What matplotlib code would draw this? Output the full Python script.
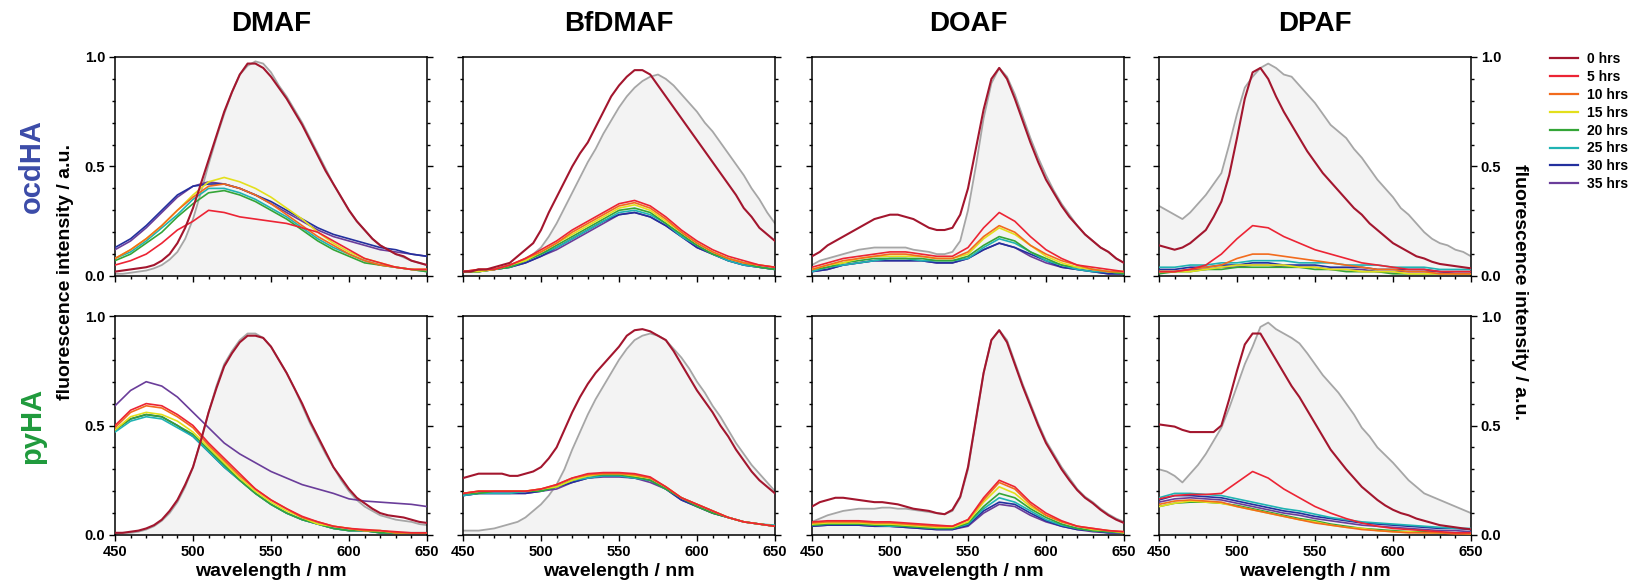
import matplotlib
matplotlib.use("Agg")
import matplotlib.pyplot as plt
from matplotlib.ticker import MultipleLocator
from matplotlib.lines import Line2D

plt.rcParams['font.family'] = ['Liberation Sans', 'DejaVu Sans']
plt.rcParams['font.weight'] = 'bold'

# --- Data ---

# wavelength grids: 5 nm for 0 hrs + reference, 10 nm for the later spectra
wl_fine = list(range(450, 651, 5))
wl = list(range(450, 651, 10))

hours = ["0 hrs", "5 hrs", "10 hrs", "15 hrs", "20 hrs", "25 hrs", "30 hrs", "35 hrs"]
hour_colors = ["#a3162e", "#ec2434", "#f26b1d", "#e3df1c", "#34a537", "#1fb3b3", "#23309e", "#6a3d9a"]

dyes = ["DMAF", "BfDMAF", "DOAF", "DPAF"]
rows = ["ocdHA", "pyHA"]
row_colors = ["#3b4ba8", "#1f9a3c"]

# ocdHA / DMAF
ocd_dmaf_ref = [0.01, 0.01, 0.015, 0.02, 0.025, 0.035, 0.05, 0.075, 0.11, 0.17,
                0.26, 0.38, 0.51, 0.63, 0.74, 0.84, 0.92, 0.96, 0.98, 0.97,
                0.93, 0.87, 0.82, 0.76, 0.70, 0.63, 0.56, 0.49, 0.42, 0.36,
                0.30, 0.25, 0.21, 0.17, 0.14, 0.12, 0.10, 0.085, 0.07, 0.06, 0.05]
ocd_dmaf_0h = [0.02, 0.025, 0.03, 0.035, 0.04, 0.05, 0.07, 0.10, 0.15, 0.22,
               0.31, 0.42, 0.53, 0.64, 0.75, 0.84, 0.92, 0.97, 0.97, 0.95,
               0.91, 0.86, 0.81, 0.75, 0.69, 0.62, 0.55, 0.48, 0.42, 0.36,
               0.30, 0.25, 0.21, 0.17, 0.14, 0.12, 0.10, 0.09, 0.07, 0.06, 0.05]
ocd_dmaf_later = [
    [0.05, 0.07, 0.10, 0.15, 0.21, 0.25, 0.30, 0.29, 0.27, 0.26, 0.25, 0.24, 0.22, 0.20, 0.16, 0.12, 0.08, 0.06, 0.04, 0.03, 0.03],
    [0.08, 0.12, 0.17, 0.23, 0.30, 0.36, 0.41, 0.42, 0.40, 0.37, 0.33, 0.28, 0.23, 0.18, 0.14, 0.10, 0.07, 0.05, 0.04, 0.03, 0.03],
    [0.08, 0.12, 0.17, 0.23, 0.30, 0.37, 0.43, 0.45, 0.43, 0.40, 0.36, 0.31, 0.26, 0.20, 0.15, 0.11, 0.08, 0.06, 0.04, 0.03, 0.03],
    [0.07, 0.10, 0.15, 0.20, 0.27, 0.33, 0.38, 0.39, 0.37, 0.34, 0.30, 0.26, 0.21, 0.16, 0.12, 0.09, 0.06, 0.05, 0.04, 0.03, 0.02],
    [0.08, 0.11, 0.16, 0.22, 0.28, 0.35, 0.40, 0.40, 0.38, 0.35, 0.31, 0.27, 0.22, 0.17, 0.13, 0.10, 0.07, 0.05, 0.04, 0.03, 0.02],
    [0.13, 0.17, 0.23, 0.30, 0.37, 0.41, 0.42, 0.42, 0.40, 0.37, 0.34, 0.30, 0.26, 0.22, 0.19, 0.17, 0.15, 0.13, 0.12, 0.10, 0.09],
    [0.12, 0.16, 0.22, 0.29, 0.36, 0.41, 0.43, 0.42, 0.40, 0.37, 0.33, 0.29, 0.25, 0.21, 0.18, 0.16, 0.14, 0.12, 0.11, 0.10, 0.09],
]

# ocdHA / BfDMAF
ocd_bfdmaf_ref = [0.02, 0.02, 0.02, 0.03, 0.03, 0.04, 0.05, 0.06, 0.08, 0.10,
                  0.13, 0.18, 0.24, 0.31, 0.38, 0.45, 0.52, 0.58, 0.65, 0.71,
                  0.77, 0.82, 0.86, 0.89, 0.91, 0.92, 0.90, 0.87, 0.83, 0.79,
                  0.75, 0.70, 0.66, 0.61, 0.56, 0.51, 0.46, 0.40, 0.35, 0.29, 0.24]
ocd_bfdmaf_0h = [0.02, 0.02, 0.03, 0.03, 0.04, 0.05, 0.06, 0.09, 0.12, 0.15,
                 0.21, 0.29, 0.36, 0.43, 0.50, 0.56, 0.61, 0.68, 0.75, 0.82,
                 0.87, 0.91, 0.94, 0.94, 0.92, 0.87, 0.82, 0.77, 0.72, 0.67,
                 0.62, 0.57, 0.52, 0.47, 0.42, 0.37, 0.31, 0.27, 0.22, 0.19, 0.16]
ocd_bfdmaf_later = [
    [0.02, 0.03, 0.03, 0.05, 0.08, 0.12, 0.16, 0.21, 0.25, 0.29, 0.33, 0.345, 0.32, 0.27, 0.21, 0.16, 0.12, 0.09, 0.07, 0.05, 0.04],
    [0.02, 0.03, 0.03, 0.05, 0.08, 0.11, 0.15, 0.20, 0.24, 0.28, 0.32, 0.335, 0.31, 0.26, 0.20, 0.15, 0.11, 0.08, 0.06, 0.05, 0.04],
    [0.02, 0.02, 0.03, 0.05, 0.07, 0.11, 0.15, 0.19, 0.23, 0.27, 0.31, 0.325, 0.30, 0.25, 0.20, 0.15, 0.11, 0.08, 0.06, 0.05, 0.04],
    [0.02, 0.02, 0.03, 0.04, 0.07, 0.10, 0.14, 0.18, 0.22, 0.26, 0.30, 0.31, 0.29, 0.24, 0.19, 0.14, 0.10, 0.08, 0.06, 0.04, 0.03],
    [0.02, 0.02, 0.03, 0.04, 0.07, 0.10, 0.13, 0.17, 0.21, 0.25, 0.29, 0.30, 0.28, 0.24, 0.18, 0.14, 0.10, 0.07, 0.05, 0.04, 0.03],
    [0.02, 0.02, 0.03, 0.04, 0.06, 0.09, 0.13, 0.17, 0.21, 0.25, 0.28, 0.29, 0.27, 0.23, 0.18, 0.13, 0.10, 0.07, 0.05, 0.04, 0.03],
    [0.02, 0.02, 0.03, 0.04, 0.06, 0.09, 0.12, 0.16, 0.20, 0.24, 0.28, 0.29, 0.27, 0.23, 0.18, 0.13, 0.10, 0.07, 0.05, 0.04, 0.03],
]

# ocdHA / DOAF
ocd_doaf_ref = [0.05, 0.07, 0.08, 0.09, 0.10, 0.11, 0.12, 0.125, 0.13, 0.13,
                0.13, 0.13, 0.13, 0.12, 0.115, 0.11, 0.10, 0.10, 0.11, 0.16,
                0.30, 0.50, 0.72, 0.88, 0.95, 0.91, 0.83, 0.73, 0.63, 0.54,
                0.46, 0.39, 0.33, 0.28, 0.23, 0.19, 0.16, 0.13, 0.11, 0.08, 0.06]
ocd_doaf_0h = [0.09, 0.11, 0.14, 0.16, 0.18, 0.20, 0.22, 0.24, 0.26, 0.27,
               0.28, 0.28, 0.27, 0.26, 0.24, 0.22, 0.21, 0.21, 0.22, 0.28,
               0.40, 0.58, 0.76, 0.90, 0.95, 0.90, 0.81, 0.71, 0.61, 0.52,
               0.44, 0.38, 0.32, 0.27, 0.23, 0.19, 0.16, 0.13, 0.11, 0.08, 0.06]
ocd_doaf_later = [
    [0.04, 0.06, 0.08, 0.09, 0.10, 0.11, 0.11, 0.10, 0.09, 0.09, 0.13, 0.22, 0.29, 0.25, 0.18, 0.12, 0.08, 0.05, 0.04, 0.03, 0.02],
    [0.03, 0.05, 0.07, 0.08, 0.09, 0.10, 0.10, 0.09, 0.08, 0.08, 0.11, 0.18, 0.23, 0.20, 0.14, 0.10, 0.07, 0.05, 0.03, 0.02, 0.02],
    [0.03, 0.05, 0.06, 0.08, 0.09, 0.09, 0.09, 0.09, 0.08, 0.08, 0.10, 0.17, 0.22, 0.19, 0.14, 0.09, 0.06, 0.04, 0.03, 0.02, 0.02],
    [0.03, 0.04, 0.06, 0.07, 0.08, 0.08, 0.08, 0.08, 0.07, 0.07, 0.09, 0.14, 0.18, 0.16, 0.11, 0.08, 0.05, 0.04, 0.03, 0.02, 0.01],
    [0.02, 0.04, 0.05, 0.06, 0.07, 0.08, 0.08, 0.07, 0.07, 0.07, 0.08, 0.13, 0.17, 0.15, 0.11, 0.07, 0.05, 0.03, 0.02, 0.02, 0.01],
    [0.02, 0.03, 0.05, 0.06, 0.07, 0.07, 0.07, 0.07, 0.06, 0.06, 0.08, 0.12, 0.15, 0.13, 0.10, 0.07, 0.04, 0.03, 0.02, 0.01, 0.01],
    [0.02, 0.03, 0.05, 0.06, 0.07, 0.07, 0.07, 0.07, 0.06, 0.06, 0.08, 0.12, 0.15, 0.13, 0.09, 0.06, 0.04, 0.03, 0.02, 0.01, 0.01],
]

# ocdHA / DPAF
ocd_dpaf_ref = [0.32, 0.30, 0.28, 0.26, 0.29, 0.33, 0.37, 0.42, 0.47, 0.60,
                0.74, 0.86, 0.91, 0.95, 0.97, 0.95, 0.92, 0.91, 0.87, 0.83,
                0.79, 0.74, 0.69, 0.66, 0.63, 0.58, 0.54, 0.49, 0.44, 0.40,
                0.36, 0.31, 0.28, 0.24, 0.20, 0.17, 0.15, 0.14, 0.12, 0.11, 0.09]
ocd_dpaf_0h = [0.14, 0.13, 0.12, 0.13, 0.15, 0.18, 0.21, 0.27, 0.34, 0.46,
               0.63, 0.81, 0.93, 0.95, 0.90, 0.82, 0.75, 0.69, 0.63, 0.57,
               0.52, 0.47, 0.43, 0.39, 0.35, 0.31, 0.28, 0.24, 0.21, 0.18,
               0.15, 0.13, 0.11, 0.09, 0.08, 0.065, 0.055, 0.05, 0.045, 0.04, 0.035]
ocd_dpaf_later = [
    [0.02, 0.02, 0.03, 0.05, 0.10, 0.17, 0.23, 0.22, 0.18, 0.15, 0.12, 0.10, 0.08, 0.06, 0.05, 0.04, 0.03, 0.03, 0.02, 0.02, 0.02],
    [0.02, 0.02, 0.03, 0.04, 0.05, 0.08, 0.10, 0.10, 0.09, 0.08, 0.07, 0.06, 0.05, 0.04, 0.03, 0.03, 0.02, 0.02, 0.01, 0.01, 0.01],
    [0.02, 0.02, 0.02, 0.03, 0.04, 0.05, 0.05, 0.05, 0.05, 0.04, 0.04, 0.03, 0.03, 0.02, 0.02, 0.02, 0.01, 0.01, 0.01, 0.01, 0.01],
    [0.01, 0.02, 0.02, 0.03, 0.03, 0.04, 0.04, 0.04, 0.04, 0.04, 0.03, 0.03, 0.02, 0.02, 0.02, 0.01, 0.01, 0.01, 0.01, 0.01, 0.01],
    [0.04, 0.04, 0.05, 0.05, 0.06, 0.06, 0.07, 0.07, 0.07, 0.06, 0.06, 0.06, 0.05, 0.05, 0.05, 0.04, 0.04, 0.04, 0.03, 0.03, 0.03],
    [0.03, 0.03, 0.04, 0.04, 0.05, 0.05, 0.06, 0.06, 0.05, 0.05, 0.05, 0.04, 0.04, 0.04, 0.03, 0.03, 0.03, 0.03, 0.02, 0.02, 0.02],
    [0.02, 0.02, 0.03, 0.03, 0.04, 0.04, 0.05, 0.05, 0.04, 0.04, 0.04, 0.03, 0.03, 0.03, 0.02, 0.02, 0.02, 0.02, 0.02, 0.01, 0.01],
]

# pyHA / DMAF
py_dmaf_ref = [0.005, 0.01, 0.01, 0.015, 0.025, 0.04, 0.065, 0.10, 0.15, 0.22,
               0.31, 0.43, 0.56, 0.68, 0.78, 0.84, 0.89, 0.92, 0.92, 0.90,
               0.86, 0.80, 0.74, 0.67, 0.59, 0.51, 0.44, 0.37, 0.31, 0.25,
               0.20, 0.16, 0.13, 0.11, 0.09, 0.08, 0.07, 0.065, 0.06, 0.05, 0.045]
py_dmaf_0h = [0.01, 0.01, 0.015, 0.02, 0.03, 0.045, 0.07, 0.11, 0.16, 0.23,
              0.31, 0.43, 0.56, 0.67, 0.77, 0.83, 0.88, 0.91, 0.91, 0.90,
              0.86, 0.80, 0.74, 0.67, 0.60, 0.52, 0.45, 0.38, 0.31, 0.26,
              0.21, 0.17, 0.145, 0.12, 0.10, 0.09, 0.085, 0.08, 0.07, 0.06, 0.055]
py_dmaf_later = [
    [0.50, 0.57, 0.60, 0.59, 0.55, 0.50, 0.42, 0.35, 0.28, 0.21, 0.16, 0.12, 0.085, 0.06, 0.04, 0.03, 0.025, 0.02, 0.015, 0.01, 0.01],
    [0.49, 0.56, 0.59, 0.58, 0.54, 0.49, 0.41, 0.34, 0.27, 0.21, 0.16, 0.12, 0.08, 0.06, 0.04, 0.03, 0.02, 0.02, 0.01, 0.01, 0.01],
    [0.48, 0.54, 0.56, 0.55, 0.52, 0.47, 0.40, 0.33, 0.26, 0.20, 0.15, 0.11, 0.08, 0.05, 0.04, 0.03, 0.02, 0.02, 0.01, 0.01, 0.01],
    [0.48, 0.53, 0.55, 0.54, 0.50, 0.46, 0.39, 0.32, 0.25, 0.19, 0.14, 0.10, 0.07, 0.05, 0.03, 0.02, 0.02, 0.01, 0.01, 0.01, 0.01],
    [0.47, 0.52, 0.54, 0.53, 0.49, 0.45, 0.38, 0.31, 0.25, 0.19, 0.14, 0.10, 0.07, 0.05, 0.03, 0.02, 0.02, 0.01, 0.01, 0.01, 0.01],
    [0.48, 0.53, 0.55, 0.54, 0.50, 0.45, 0.38, 0.31, 0.25, 0.19, 0.14, 0.10, 0.07, 0.05, 0.03, 0.02, 0.02, 0.01, 0.01, 0.01, 0.01],
    [0.59, 0.66, 0.70, 0.68, 0.63, 0.56, 0.49, 0.42, 0.37, 0.33, 0.29, 0.26, 0.23, 0.21, 0.19, 0.165, 0.155, 0.15, 0.145, 0.14, 0.13],
]

# pyHA / BfDMAF
py_bfdmaf_ref = [0.02, 0.02, 0.02, 0.025, 0.03, 0.04, 0.05, 0.06, 0.08, 0.11,
                 0.14, 0.18, 0.23, 0.30, 0.39, 0.47, 0.55, 0.62, 0.68, 0.74,
                 0.80, 0.85, 0.89, 0.91, 0.92, 0.91, 0.89, 0.85, 0.81, 0.76,
                 0.70, 0.65, 0.59, 0.54, 0.48, 0.42, 0.37, 0.32, 0.28, 0.24, 0.20]
py_bfdmaf_0h = [0.26, 0.27, 0.28, 0.28, 0.28, 0.28, 0.27, 0.27, 0.28, 0.29,
                0.31, 0.35, 0.40, 0.48, 0.56, 0.63, 0.69, 0.74, 0.78, 0.82,
                0.86, 0.91, 0.935, 0.94, 0.93, 0.91, 0.89, 0.84, 0.78, 0.72,
                0.66, 0.61, 0.56, 0.50, 0.45, 0.39, 0.34, 0.29, 0.25, 0.22, 0.19]
py_bfdmaf_later = [
    [0.19, 0.20, 0.20, 0.20, 0.20, 0.21, 0.23, 0.26, 0.28, 0.285, 0.285, 0.28, 0.265, 0.22, 0.17, 0.14, 0.11, 0.08, 0.06, 0.05, 0.04],
    [0.19, 0.20, 0.20, 0.20, 0.20, 0.21, 0.23, 0.26, 0.275, 0.28, 0.28, 0.275, 0.26, 0.22, 0.17, 0.14, 0.11, 0.08, 0.06, 0.05, 0.04],
    [0.19, 0.20, 0.20, 0.20, 0.20, 0.21, 0.22, 0.25, 0.27, 0.28, 0.28, 0.27, 0.26, 0.22, 0.17, 0.14, 0.11, 0.08, 0.06, 0.05, 0.04],
    [0.19, 0.19, 0.20, 0.20, 0.20, 0.20, 0.22, 0.25, 0.27, 0.275, 0.275, 0.265, 0.25, 0.21, 0.17, 0.13, 0.10, 0.08, 0.06, 0.05, 0.04],
    [0.18, 0.19, 0.19, 0.19, 0.20, 0.20, 0.22, 0.25, 0.26, 0.27, 0.27, 0.26, 0.25, 0.21, 0.17, 0.14, 0.11, 0.08, 0.06, 0.05, 0.045],
    [0.18, 0.19, 0.19, 0.19, 0.19, 0.20, 0.22, 0.24, 0.26, 0.27, 0.27, 0.26, 0.25, 0.21, 0.16, 0.13, 0.10, 0.08, 0.06, 0.05, 0.04],
    [0.18, 0.19, 0.19, 0.19, 0.19, 0.20, 0.21, 0.24, 0.26, 0.265, 0.265, 0.26, 0.24, 0.21, 0.16, 0.13, 0.10, 0.08, 0.06, 0.05, 0.04],
]

# pyHA / DOAF
py_doaf_ref = [0.06, 0.075, 0.09, 0.10, 0.11, 0.115, 0.12, 0.12, 0.12, 0.125,
               0.125, 0.12, 0.12, 0.115, 0.11, 0.105, 0.10, 0.095, 0.11, 0.17,
               0.30, 0.52, 0.74, 0.89, 0.935, 0.89, 0.79, 0.69, 0.60, 0.51,
               0.43, 0.37, 0.31, 0.26, 0.21, 0.175, 0.15, 0.12, 0.095, 0.075, 0.06]
py_doaf_0h = [0.13, 0.15, 0.16, 0.17, 0.17, 0.165, 0.16, 0.155, 0.15, 0.15,
              0.145, 0.14, 0.13, 0.12, 0.115, 0.11, 0.10, 0.095, 0.115, 0.175,
              0.31, 0.525, 0.74, 0.89, 0.935, 0.88, 0.78, 0.68, 0.59, 0.50,
              0.42, 0.36, 0.30, 0.25, 0.205, 0.17, 0.145, 0.115, 0.09, 0.07, 0.055]
py_doaf_later = [
    [0.06, 0.065, 0.065, 0.065, 0.06, 0.06, 0.055, 0.05, 0.045, 0.04, 0.07, 0.17, 0.25, 0.22, 0.15, 0.10, 0.065, 0.04, 0.03, 0.02, 0.015],
    [0.055, 0.06, 0.06, 0.06, 0.055, 0.055, 0.05, 0.045, 0.04, 0.04, 0.07, 0.16, 0.24, 0.21, 0.14, 0.09, 0.06, 0.04, 0.03, 0.02, 0.015],
    [0.05, 0.055, 0.055, 0.055, 0.05, 0.05, 0.045, 0.04, 0.035, 0.035, 0.06, 0.15, 0.22, 0.19, 0.13, 0.09, 0.06, 0.04, 0.025, 0.02, 0.01],
    [0.045, 0.05, 0.05, 0.05, 0.045, 0.045, 0.04, 0.035, 0.03, 0.03, 0.055, 0.13, 0.19, 0.17, 0.12, 0.08, 0.05, 0.03, 0.02, 0.015, 0.01],
    [0.045, 0.05, 0.05, 0.05, 0.045, 0.04, 0.04, 0.035, 0.03, 0.03, 0.05, 0.12, 0.17, 0.15, 0.11, 0.07, 0.045, 0.03, 0.02, 0.015, 0.01],
    [0.04, 0.045, 0.045, 0.045, 0.04, 0.04, 0.035, 0.03, 0.025, 0.025, 0.045, 0.11, 0.15, 0.14, 0.10, 0.065, 0.04, 0.025, 0.02, 0.01, 0.01],
    [0.04, 0.045, 0.045, 0.045, 0.04, 0.04, 0.035, 0.03, 0.025, 0.025, 0.04, 0.10, 0.14, 0.13, 0.09, 0.06, 0.04, 0.025, 0.015, 0.01, 0.01],
]

# pyHA / DPAF
py_dpaf_ref = [0.30, 0.29, 0.27, 0.24, 0.28, 0.32, 0.37, 0.43, 0.49, 0.58,
               0.68, 0.78, 0.86, 0.95, 0.97, 0.94, 0.92, 0.90, 0.875, 0.83,
               0.78, 0.73, 0.69, 0.65, 0.60, 0.55, 0.49, 0.45, 0.40, 0.365,
               0.33, 0.29, 0.25, 0.22, 0.19, 0.175, 0.16, 0.145, 0.13, 0.115, 0.10]
py_dpaf_0h = [0.505, 0.50, 0.495, 0.48, 0.47, 0.47, 0.47, 0.47, 0.50, 0.62,
              0.75, 0.87, 0.92, 0.92, 0.86, 0.80, 0.74, 0.68, 0.63, 0.57,
              0.51, 0.45, 0.39, 0.345, 0.30, 0.26, 0.22, 0.19, 0.16, 0.135,
              0.115, 0.10, 0.09, 0.075, 0.065, 0.055, 0.045, 0.04, 0.035, 0.03, 0.026]
py_dpaf_later = [
    [0.165, 0.18, 0.185, 0.185, 0.19, 0.24, 0.29, 0.26, 0.21, 0.17, 0.13, 0.10, 0.075, 0.055, 0.04, 0.03, 0.025, 0.02, 0.015, 0.01, 0.01],
    [0.14, 0.155, 0.16, 0.155, 0.15, 0.13, 0.115, 0.10, 0.085, 0.07, 0.055, 0.045, 0.035, 0.025, 0.02, 0.015, 0.01, 0.01, 0.01, 0.005, 0.005],
    [0.13, 0.145, 0.155, 0.15, 0.145, 0.13, 0.115, 0.10, 0.085, 0.07, 0.06, 0.045, 0.035, 0.03, 0.02, 0.015, 0.015, 0.01, 0.01, 0.01, 0.005],
    [0.13, 0.145, 0.15, 0.15, 0.145, 0.135, 0.12, 0.105, 0.09, 0.075, 0.065, 0.05, 0.04, 0.03, 0.025, 0.02, 0.015, 0.015, 0.01, 0.01, 0.01],
    [0.17, 0.19, 0.19, 0.185, 0.18, 0.165, 0.15, 0.135, 0.12, 0.11, 0.095, 0.08, 0.07, 0.06, 0.055, 0.05, 0.045, 0.04, 0.035, 0.03, 0.03],
    [0.16, 0.18, 0.18, 0.175, 0.17, 0.155, 0.14, 0.125, 0.11, 0.10, 0.085, 0.075, 0.065, 0.055, 0.05, 0.045, 0.04, 0.035, 0.03, 0.03, 0.025],
    [0.15, 0.165, 0.17, 0.165, 0.16, 0.145, 0.13, 0.115, 0.10, 0.09, 0.075, 0.065, 0.055, 0.045, 0.04, 0.035, 0.03, 0.025, 0.02, 0.02, 0.015],
]

panels = [
    [(ocd_dmaf_ref, ocd_dmaf_0h, ocd_dmaf_later),
     (ocd_bfdmaf_ref, ocd_bfdmaf_0h, ocd_bfdmaf_later),
     (ocd_doaf_ref, ocd_doaf_0h, ocd_doaf_later),
     (ocd_dpaf_ref, ocd_dpaf_0h, ocd_dpaf_later)],
    [(py_dmaf_ref, py_dmaf_0h, py_dmaf_later),
     (py_bfdmaf_ref, py_bfdmaf_0h, py_bfdmaf_later),
     (py_doaf_ref, py_doaf_0h, py_doaf_later),
     (py_dpaf_ref, py_dpaf_0h, py_dpaf_later)],
]

# --- Layout (pixel boxes of the reference) ---
W, H = 1633, 587
col_left = [115, 463, 812, 1159]
ax_w = 312
row_top = [57, 316]
ax_h = 219


def style_axes(ax, r, c):
    ax.set_xlim(450, 650)
    ax.set_ylim(0, 1.0)
    ax.set_xticks([450, 500, 550, 600, 650])
    ax.xaxis.set_minor_locator(MultipleLocator(10))
    ax.set_yticks([0.0, 0.5, 1.0])
    ax.set_yticklabels(["0.0", "0.5", "1.0"])
    ax.yaxis.set_minor_locator(MultipleLocator(0.1))
    ax.tick_params(which='both', direction='out', left=True, right=True,
                   top=False, bottom=True, width=1.0, labelsize=10.5, pad=2.5)
    ax.tick_params(which='major', length=4.5)
    ax.tick_params(which='minor', length=2.5)
    ax.tick_params(labelleft=(c == 0), labelright=(c == 3), labelbottom=(r == 1))
    for sp in ax.spines.values():
        sp.set_linewidth(1.1)
    if r == 1:
        ax.set_xlabel("wavelength / nm", fontsize=14, fontweight='bold', labelpad=3)


fig = plt.figure(figsize=(W / 100, H / 100), dpi=100)

for r in range(2):
    for c in range(4):
        ax = fig.add_axes([col_left[c] / W, 1 - (row_top[r] + ax_h) / H, ax_w / W, ax_h / H])
        ref, first, later = panels[r][c]
        ax.fill_between(wl_fine, ref, 0, color='#f3f3f3', lw=0, zorder=1)
        ax.plot(wl_fine, ref, color='#a6a6a6', lw=1.3, zorder=2)
        # later spectra, drawn 35 hrs first so 5 hrs ends up on top
        for k in range(len(later) - 1, -1, -1):
            ax.plot(wl, later[k], color=hour_colors[k + 1], lw=1.2, zorder=3)
        ax.plot(wl_fine, first, color=hour_colors[0], lw=1.5, zorder=4)
        style_axes(ax, r, c)

# column titles
for c, name in enumerate(dyes):
    fig.text((col_left[c] + ax_w / 2) / W, 1 - 24 / H, name, ha='center', va='center',
             fontsize=20, fontweight='bold')

# row labels
for r, name in enumerate(rows):
    fig.text(32 / W, 1 - (row_top[r] + ax_h / 2) / H, name, rotation=90, ha='center',
             va='center', fontsize=21, fontweight='bold', color=row_colors[r])

fig.text(66 / W, 1 - 272 / H, "fluorescence intensity / a.u.", rotation=90,
         ha='center', va='center', fontsize=14, fontweight='bold')
fig.text(1520 / W, 1 - 292 / H, "fluorescence intensity / a.u.", rotation=270,
         ha='center', va='center', fontsize=14, fontweight='bold')

# legend
handles = [Line2D([0], [0], color=col, lw=1.6) for col in hour_colors]
fig.legend(handles, hours, loc='upper left', bbox_to_anchor=(1550 / W, 1 - 52 / H),
           frameon=False, borderpad=0, borderaxespad=0, handlelength=2.0,
           handletextpad=0.7, labelspacing=0.28, prop={'size': 10, 'weight': 'bold'})

fig.savefig("out.png", dpi=100)
